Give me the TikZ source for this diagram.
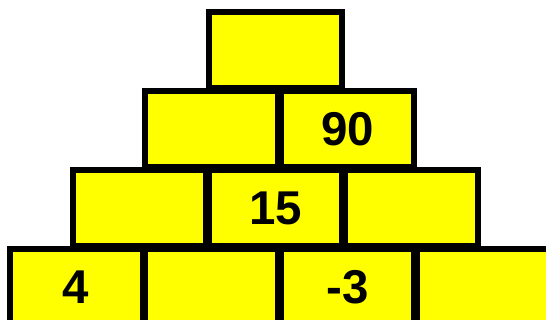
\documentclass[tikz,border=0pt]{standalone}
\usepackage{fontspec}
\setmainfont{Liberation Sans}
\usepackage{xcolor}
\usepackage{tikz}
\usetikzlibrary{positioning}
\definecolor{brickyellow}{HTML}{FFFF00}
\definecolor{brickink}{HTML}{000000}

\begin{document}
\begin{tikzpicture}[
  x=0.02cm,y=0.02cm,
  brick/.style={draw=brickink,fill=brickyellow,line width=3.4pt,outer sep=0pt,minimum width=2.66cm,minimum height=1.52cm,inner sep=0pt,font=\fontsize{27}{27}\selectfont\bfseries},
  node distance=0.06cm
]
\useasboundingbox (0,0) rectangle (546,320);
\node[brick] (base1) at (76,33) {4};
\node[brick,right=of base1] (base2) {};
\node[brick,right=of base2] (base3) {-3};
\node[brick,right=of base3] (base4) {};
\node[brick] (mid1) at (139.5,112) {};
\node[brick,right=of mid1] (mid2) {15};
\node[brick,right=of mid2] (mid3) {};
\node[brick] (upper1) at (211.5,191) {};
\node[brick,right=of upper1] (upper2) {90};
\node[brick] (apex) at (275.5,270) {};
\end{tikzpicture}
\end{document}
